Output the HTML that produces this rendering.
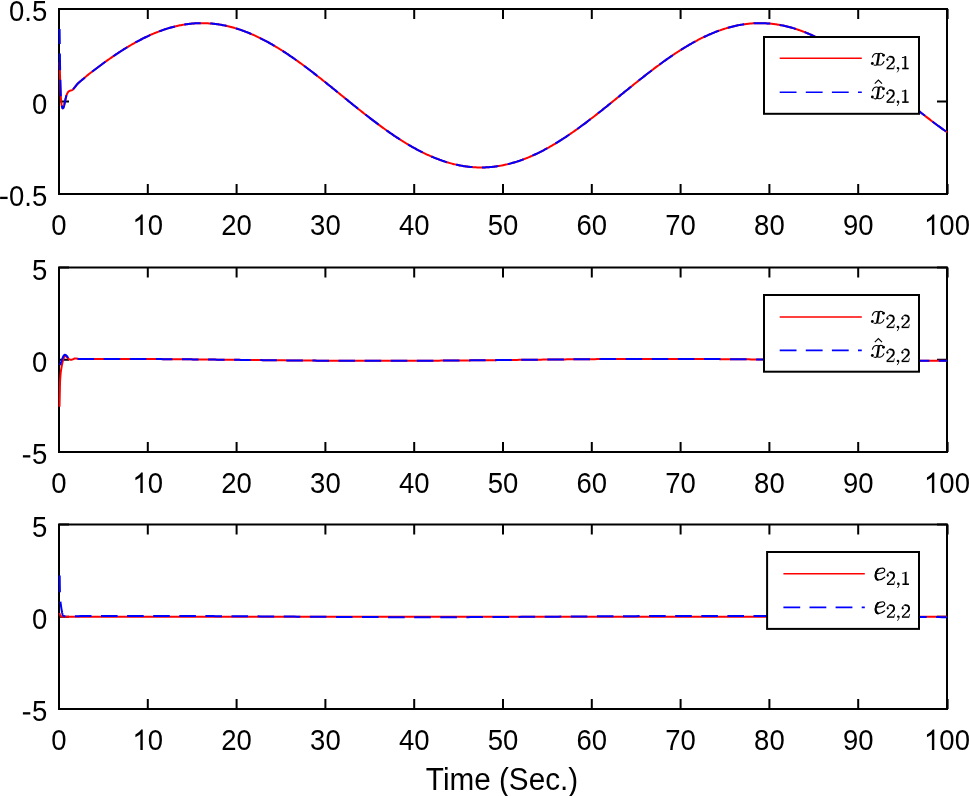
<!DOCTYPE html><html><head><meta charset="utf-8"><style>html,body{margin:0;padding:0;background:#fff;}svg{display:block;will-change:transform;}text{font-family:"Liberation Sans",sans-serif;}.s{font-family:"Liberation Serif",serif;}</style></head><body>
<svg width="969" height="796" viewBox="0 0 969 796">
<rect x="0" y="0" width="969" height="796" fill="#fff"/>
<defs>
<clipPath id="c0"><rect x="57.50" y="8.00" width="891.00" height="187.00"/></clipPath>
<clipPath id="c1"><rect x="57.50" y="266.50" width="891.00" height="186.50"/></clipPath>
<clipPath id="c2"><rect x="57.50" y="523.50" width="891.00" height="186.50"/></clipPath>
</defs>
<rect x="59.00" y="9.00" width="888.00" height="185.00" fill="none" stroke="#000" stroke-width="2"/>
<path d="M59.00 194.00V184.00M59.00 9.00V19.00M147.80 194.00V184.00M147.80 9.00V19.00M236.60 194.00V184.00M236.60 9.00V19.00M325.40 194.00V184.00M325.40 9.00V19.00M414.20 194.00V184.00M414.20 9.00V19.00M503.00 194.00V184.00M503.00 9.00V19.00M591.80 194.00V184.00M591.80 9.00V19.00M680.60 194.00V184.00M680.60 9.00V19.00M769.40 194.00V184.00M769.40 9.00V19.00M858.20 194.00V184.00M858.20 9.00V19.00M947.60 194.00V184.00M947.60 9.00V19.00M59.00 9.00H69.00M947.00 9.00H937.00M59.00 101.50H69.00M947.00 101.50H937.00M59.00 194.00H69.00M947.00 194.00H937.00" stroke="#000" stroke-width="2" fill="none"/>
<text transform="translate(59.00 235.10) scale(1 1.085)" font-size="27.5" text-anchor="middle">0</text>
<path transform="translate(132.51 235.10) scale(0.01343 -0.01457)" d="M763,0 L583,0 L583,1100 C539,1060 481,1020 409,980 C337,940 272,910 215,885 L215,1075 C317,1121 406,1172 482,1234 C558,1296 612,1352 643,1409 L763,1409 Z"/>
<text transform="translate(147.80 235.10) scale(1 1.085)" font-size="27.5">0</text>
<text transform="translate(236.60 235.10) scale(1 1.085)" font-size="27.5" text-anchor="middle">20</text>
<text transform="translate(325.40 235.10) scale(1 1.085)" font-size="27.5" text-anchor="middle">30</text>
<text transform="translate(414.20 235.10) scale(1 1.085)" font-size="27.5" text-anchor="middle">40</text>
<text transform="translate(503.00 235.10) scale(1 1.085)" font-size="27.5" text-anchor="middle">50</text>
<text transform="translate(591.80 235.10) scale(1 1.085)" font-size="27.5" text-anchor="middle">60</text>
<text transform="translate(680.60 235.10) scale(1 1.085)" font-size="27.5" text-anchor="middle">70</text>
<text transform="translate(769.40 235.10) scale(1 1.085)" font-size="27.5" text-anchor="middle">80</text>
<text transform="translate(858.20 235.10) scale(1 1.085)" font-size="27.5" text-anchor="middle">90</text>
<path transform="translate(924.06 235.10) scale(0.01343 -0.01457)" d="M763,0 L583,0 L583,1100 C539,1060 481,1020 409,980 C337,940 272,910 215,885 L215,1075 C317,1121 406,1172 482,1234 C558,1296 612,1352 643,1409 L763,1409 Z"/>
<text transform="translate(939.35 235.10) scale(1 1.085)" font-size="27.5">00</text>
<text transform="translate(47.20 21.00) scale(1 1.085)" font-size="27.5" text-anchor="end">0.5</text>
<text transform="translate(47.20 113.50) scale(1 1.085)" font-size="27.5" text-anchor="end">0</text>
<rect x="0.1" y="196.75" width="7.5" height="2.3"/>
<text transform="translate(47.20 206.00) scale(1 1.085)" font-size="27.5" text-anchor="end">0.5</text>
<g clip-path="url(#c0)" fill="none" stroke-width="2" stroke-linejoin="round">
<path d="M59.60,62.00 59.63,63.06 59.67,64.52 59.73,66.25 59.78,68.15 59.84,70.10 59.90,72.00 59.96,73.88 60.02,75.85 60.09,77.88 60.16,79.93 60.23,81.98 60.30,84.00 60.38,86.04 60.45,88.14 60.53,90.24 60.61,92.28 60.70,94.22 60.80,96.00 60.90,97.63 61.00,99.17 61.11,100.59 61.22,101.91 61.35,103.11 61.50,104.20 61.67,105.19 61.86,106.11 62.06,106.91 62.27,107.56 62.49,108.03 62.70,108.30 62.91,108.32 63.13,108.13 63.35,107.75 63.57,107.24 63.79,106.64 64.00,106.00 64.20,105.27 64.40,104.40 64.59,103.45 64.79,102.45 64.99,101.45 65.20,100.50 65.42,99.56 65.64,98.58 65.87,97.61 66.10,96.66 66.35,95.78 66.60,95.00 66.86,94.31 67.13,93.69 67.41,93.13 67.70,92.63 68.00,92.19 68.30,91.80 68.62,91.48 68.94,91.23 69.28,91.04 69.62,90.88 69.96,90.74 70.30,90.60 70.63,90.49 70.95,90.43 71.28,90.39 71.60,90.33 71.94,90.21 72.30,90.00 72.68,89.69 73.07,89.30 73.47,88.86 73.89,88.38 74.30,87.89 74.70,87.40 75.09,86.91 75.47,86.40 75.84,85.88 76.23,85.35 76.65,84.82 77.10,84.30 77.60,83.78 78.13,83.25 78.69,82.72 79.26,82.20 79.83,81.69 80.40,81.20 81.00,80.70 81.65,80.17 82.31,79.66 82.91,79.19 83.43,78.79 83.80,78.50 87.00,75.63 88.00,74.85 89.00,74.07 90.00,73.30 91.00,72.53 92.00,71.76 93.00,70.99 94.00,70.23 95.00,69.47 96.00,68.71 97.00,67.96 98.00,67.21 99.00,66.46 100.00,65.72 101.00,64.98 102.00,64.24 103.00,63.51 104.00,62.78 105.00,62.06 106.00,61.34 107.00,60.63 108.00,59.92 109.00,59.21 110.00,58.51 111.00,57.81 112.00,57.12 113.00,56.43 114.00,55.75 115.00,55.08 116.00,54.40 117.00,53.74 118.00,53.08 119.00,52.42 120.00,51.77 121.00,51.12 122.00,50.48 123.00,49.85 124.00,49.22 125.00,48.60 126.00,47.98 127.00,47.37 128.00,46.77 129.00,46.17 130.00,45.58 131.00,44.99 132.00,44.41 133.00,43.84 134.00,43.28 135.00,42.72 136.00,42.16 137.00,41.62 138.00,41.08 139.00,40.54 140.00,40.02 141.00,39.50 142.00,38.99 143.00,38.48 144.00,37.99 145.00,37.50 146.00,37.01 147.00,36.54 148.00,36.07 149.00,35.61 150.00,35.16 151.00,34.71 152.00,34.28 153.00,33.85 154.00,33.43 155.00,33.01 156.00,32.61 157.00,32.21 158.00,31.82 159.00,31.44 160.00,31.06 161.00,30.70 162.00,30.34 163.00,29.99 164.00,29.65 165.00,29.31 166.00,28.99 167.00,28.67 168.00,28.37 169.00,28.07 170.00,27.78 171.00,27.50 172.00,27.22 173.00,26.96 174.00,26.70 175.00,26.45 176.00,26.22 177.00,25.99 178.00,25.76 179.00,25.55 180.00,25.35 181.00,25.15 182.00,24.97 183.00,24.79 184.00,24.62 185.00,24.47 186.00,24.32 187.00,24.18 188.00,24.04 189.00,23.92 190.00,23.81 191.00,23.70 192.00,23.61 193.00,23.52 194.00,23.44 195.00,23.37 196.00,23.32 197.00,23.27 198.00,23.22 199.00,23.19 200.00,23.17 201.00,23.16 202.00,23.15 203.00,23.16 204.00,23.17 205.00,23.19 206.00,23.23 207.00,23.27 208.00,23.32 209.00,23.38 210.00,23.45 211.00,23.53 212.00,23.61 213.00,23.71 214.00,23.81 215.00,23.93 216.00,24.05 217.00,24.18 218.00,24.33 219.00,24.48 220.00,24.63 221.00,24.80 222.00,24.98 223.00,25.17 224.00,25.36 225.00,25.57 226.00,25.78 227.00,26.00 228.00,26.23 229.00,26.47 230.00,26.72 231.00,26.97 232.00,27.24 233.00,27.51 234.00,27.80 235.00,28.09 236.00,28.39 237.00,28.69 238.00,29.01 239.00,29.34 240.00,29.67 241.00,30.01 242.00,30.36 243.00,30.72 244.00,31.09 245.00,31.46 246.00,31.84 247.00,32.23 248.00,32.63 249.00,33.04 250.00,33.45 251.00,33.87 252.00,34.30 253.00,34.74 254.00,35.19 255.00,35.64 256.00,36.10 257.00,36.57 258.00,37.05 259.00,37.53 260.00,38.02 261.00,38.52 262.00,39.02 263.00,39.53 264.00,40.05 265.00,40.58 266.00,41.11 267.00,41.65 268.00,42.20 269.00,42.75 270.00,43.31 271.00,43.88 272.00,44.45 273.00,45.03 274.00,45.62 275.00,46.21 276.00,46.81 277.00,47.41 278.00,48.02 279.00,48.64 280.00,49.26 281.00,49.89 282.00,50.52 283.00,51.16 284.00,51.81 285.00,52.46 286.00,53.12 287.00,53.78 288.00,54.45 289.00,55.12 290.00,55.80 291.00,56.48 292.00,57.17 293.00,57.86 294.00,58.55 295.00,59.26 296.00,59.96 297.00,60.67 298.00,61.39 299.00,62.11 300.00,62.83 301.00,63.56 302.00,64.29 303.00,65.03 304.00,65.76 305.00,66.51 306.00,67.25 307.00,68.01 308.00,68.76 309.00,69.52 310.00,70.28 311.00,71.04 312.00,71.81 313.00,72.58 314.00,73.35 315.00,74.12 316.00,74.90 317.00,75.68 318.00,76.47 319.00,77.25 320.00,78.04 321.00,78.83 322.00,79.62 323.00,80.42 324.00,81.21 325.00,82.01 326.00,82.81 327.00,83.61 328.00,84.41 329.00,85.22 330.00,86.02 331.00,86.83 332.00,87.64 333.00,88.44 334.00,89.25 335.00,90.06 336.00,90.87 337.00,91.68 338.00,92.50 339.00,93.31 340.00,94.12 341.00,94.93 342.00,95.75 343.00,96.56 344.00,97.37 345.00,98.18 346.00,98.99 347.00,99.81 348.00,100.62 349.00,101.43 350.00,102.23 351.00,103.04 352.00,103.85 353.00,104.66 354.00,105.46 355.00,106.27 356.00,107.07 357.00,107.87 358.00,108.67 359.00,109.47 360.00,110.26 361.00,111.06 362.00,111.85 363.00,112.64 364.00,113.42 365.00,114.21 366.00,114.99 367.00,115.77 368.00,116.55 369.00,117.33 370.00,118.10 371.00,118.87 372.00,119.63 373.00,120.40 374.00,121.16 375.00,121.91 376.00,122.67 377.00,123.42 378.00,124.16 379.00,124.91 380.00,125.65 381.00,126.38 382.00,127.11 383.00,127.84 384.00,128.56 385.00,129.28 386.00,130.00 387.00,130.71 388.00,131.41 389.00,132.11 390.00,132.81 391.00,133.50 392.00,134.19 393.00,134.87 394.00,135.55 395.00,136.22 396.00,136.89 397.00,137.55 398.00,138.20 399.00,138.85 400.00,139.50 401.00,140.14 402.00,140.77 403.00,141.40 404.00,142.02 405.00,142.64 406.00,143.25 407.00,143.85 408.00,144.45 409.00,145.04 410.00,145.63 411.00,146.21 412.00,146.78 413.00,147.34 414.00,147.90 415.00,148.46 416.00,149.00 417.00,149.54 418.00,150.07 419.00,150.60 420.00,151.12 421.00,151.63 422.00,152.13 423.00,152.63 424.00,153.12 425.00,153.60 426.00,154.08 427.00,154.55 428.00,155.01 429.00,155.46 430.00,155.90 431.00,156.34 432.00,156.77 433.00,157.19 434.00,157.60 435.00,158.01 436.00,158.41 437.00,158.80 438.00,159.18 439.00,159.55 440.00,159.92 441.00,160.28 442.00,160.63 443.00,160.97 444.00,161.30 445.00,161.62 446.00,161.94 447.00,162.25 448.00,162.54 449.00,162.84 450.00,163.12 451.00,163.39 452.00,163.65 453.00,163.91 454.00,164.16 455.00,164.40 456.00,164.63 457.00,164.85 458.00,165.06 459.00,165.26 460.00,165.46 461.00,165.64 462.00,165.82 463.00,165.98 464.00,166.14 465.00,166.29 466.00,166.43 467.00,166.57 468.00,166.69 469.00,166.80 470.00,166.91 471.00,167.00 472.00,167.09 473.00,167.16 474.00,167.23 475.00,167.29 476.00,167.34 477.00,167.38 478.00,167.41 479.00,167.44 480.00,167.45 481.00,167.45 482.00,167.45 483.00,167.43 484.00,167.41 485.00,167.38 486.00,167.34 487.00,167.28 488.00,167.22 489.00,167.16 490.00,167.08 491.00,166.99 492.00,166.89 493.00,166.79 494.00,166.67 495.00,166.55 496.00,166.42 497.00,166.28 498.00,166.13 499.00,165.97 500.00,165.80 501.00,165.62 502.00,165.43 503.00,165.24 504.00,165.03 505.00,164.82 506.00,164.60 507.00,164.37 508.00,164.13 509.00,163.88 510.00,163.62 511.00,163.36 512.00,163.08 513.00,162.80 514.00,162.51 515.00,162.21 516.00,161.90 517.00,161.59 518.00,161.26 519.00,160.93 520.00,160.58 521.00,160.23 522.00,159.88 523.00,159.51 524.00,159.14 525.00,158.75 526.00,158.36 527.00,157.96 528.00,157.56 529.00,157.14 530.00,156.72 531.00,156.29 532.00,155.85 533.00,155.41 534.00,154.95 535.00,154.49 536.00,154.02 537.00,153.55 538.00,153.06 539.00,152.57 540.00,152.08 541.00,151.57 542.00,151.06 543.00,150.54 544.00,150.01 545.00,149.48 546.00,148.94 547.00,148.39 548.00,147.84 549.00,147.28 550.00,146.71 551.00,146.14 552.00,145.56 553.00,144.97 554.00,144.38 555.00,143.78 556.00,143.18 557.00,142.57 558.00,141.95 559.00,141.33 560.00,140.70 561.00,140.06 562.00,139.42 563.00,138.78 564.00,138.13 565.00,137.47 566.00,136.81 567.00,136.14 568.00,135.47 569.00,134.79 570.00,134.11 571.00,133.42 572.00,132.73 573.00,132.03 574.00,131.33 575.00,130.62 576.00,129.91 577.00,129.20 578.00,128.48 579.00,127.76 580.00,127.03 581.00,126.30 582.00,125.56 583.00,124.82 584.00,124.08 585.00,123.33 586.00,122.58 587.00,121.83 588.00,121.07 589.00,120.31 590.00,119.54 591.00,118.78 592.00,118.01 593.00,117.24 594.00,116.46 595.00,115.68 596.00,114.90 597.00,114.12 598.00,113.33 599.00,112.54 600.00,111.75 601.00,110.96 602.00,110.17 603.00,109.37 604.00,108.57 605.00,107.77 606.00,106.97 607.00,106.17 608.00,105.37 609.00,104.56 610.00,103.76 611.00,102.95 612.00,102.14 613.00,101.33 614.00,100.52 615.00,99.71 616.00,98.90 617.00,98.09 618.00,97.28 619.00,96.46 620.00,95.65 621.00,94.84 622.00,94.03 623.00,93.21 624.00,92.40 625.00,91.59 626.00,90.78 627.00,89.97 628.00,89.16 629.00,88.35 630.00,87.54 631.00,86.73 632.00,85.93 633.00,85.12 634.00,84.32 635.00,83.52 636.00,82.72 637.00,81.92 638.00,81.12 639.00,80.32 640.00,79.53 641.00,78.74 642.00,77.95 643.00,77.16 644.00,76.37 645.00,75.59 646.00,74.81 647.00,74.03 648.00,73.26 649.00,72.49 650.00,71.72 651.00,70.95 652.00,70.19 653.00,69.43 654.00,68.67 655.00,67.92 656.00,67.17 657.00,66.42 658.00,65.68 659.00,64.94 660.00,64.20 661.00,63.47 662.00,62.75 663.00,62.02 664.00,61.30 665.00,60.59 666.00,59.88 667.00,59.17 668.00,58.47 669.00,57.78 670.00,57.08 671.00,56.40 672.00,55.72 673.00,55.04 674.00,54.37 675.00,53.70 676.00,53.04 677.00,52.38 678.00,51.73 679.00,51.09 680.00,50.45 681.00,49.82 682.00,49.19 683.00,48.57 684.00,47.95 685.00,47.34 686.00,46.74 687.00,46.14 688.00,45.55 689.00,44.96 690.00,44.38 691.00,43.81 692.00,43.25 693.00,42.69 694.00,42.13 695.00,41.59 696.00,41.05 697.00,40.52 698.00,39.99 699.00,39.47 700.00,38.96 701.00,38.46 702.00,37.96 703.00,37.47 704.00,36.99 705.00,36.51 706.00,36.05 707.00,35.59 708.00,35.14 709.00,34.69 710.00,34.25 711.00,33.82 712.00,33.40 713.00,32.99 714.00,32.58 715.00,32.19 716.00,31.80 717.00,31.42 718.00,31.04 719.00,30.68 720.00,30.32 721.00,29.97 722.00,29.63 723.00,29.30 724.00,28.97 725.00,28.66 726.00,28.35 727.00,28.05 728.00,27.76 729.00,27.48 730.00,27.21 731.00,26.94 732.00,26.69 733.00,26.44 734.00,26.20 735.00,25.97 736.00,25.75 737.00,25.54 738.00,25.34 739.00,25.14 740.00,24.96 741.00,24.78 742.00,24.62 743.00,24.46 744.00,24.31 745.00,24.17 746.00,24.04 747.00,23.91 748.00,23.80 749.00,23.70 750.00,23.60 751.00,23.52 752.00,23.44 753.00,23.37 754.00,23.31 755.00,23.26 756.00,23.22 757.00,23.19 758.00,23.17 759.00,23.16 760.00,23.15 761.00,23.16 762.00,23.17 763.00,23.20 764.00,23.23 765.00,23.27 766.00,23.32 767.00,23.38 768.00,23.45 769.00,23.53 770.00,23.62 771.00,23.71 772.00,23.82 773.00,23.93 774.00,24.06 775.00,24.19 776.00,24.33 777.00,24.48 778.00,24.64 779.00,24.81 780.00,24.99 781.00,25.18 782.00,25.37 783.00,25.58 784.00,25.79 785.00,26.01 786.00,26.24 787.00,26.48 788.00,26.73 789.00,26.99 790.00,27.25 791.00,27.53 792.00,27.81 793.00,28.10 794.00,28.40 795.00,28.71 796.00,29.03 797.00,29.35 798.00,29.69 799.00,30.03 800.00,30.38 801.00,30.74 802.00,31.10 803.00,31.48 804.00,31.86 805.00,32.25 806.00,32.65 807.00,33.06 808.00,33.47 809.00,33.90 810.00,34.33 811.00,34.77 812.00,35.21 813.00,35.67 814.00,36.13 815.00,36.59 816.00,37.07 817.00,37.55 818.00,38.05 819.00,38.54 820.00,39.05 821.00,39.56 822.00,40.08 823.00,40.61 824.00,41.14 825.00,41.68 826.00,42.23 827.00,42.78 828.00,43.34 829.00,43.91 830.00,44.48 831.00,45.06 832.00,45.65 833.00,46.24 834.00,46.84 835.00,47.44 836.00,48.06 837.00,48.67 838.00,49.30 839.00,49.92 840.00,50.56 841.00,51.20 842.00,51.84 843.00,52.50 844.00,53.15 845.00,53.81 846.00,54.48 847.00,55.15 848.00,55.83 849.00,56.51 850.00,57.20 851.00,57.89 852.00,58.59 853.00,59.29 854.00,60.00 855.00,60.71 856.00,61.43 857.00,62.15 858.00,62.87 859.00,63.60 860.00,64.33 861.00,65.06 862.00,65.80 863.00,66.55 864.00,67.29 865.00,68.05 866.00,68.80 867.00,69.56 868.00,70.32 869.00,71.08 870.00,71.85 871.00,72.62 872.00,73.39 873.00,74.17 874.00,74.94 875.00,75.72 876.00,76.51 877.00,77.29 878.00,78.08 879.00,78.87 880.00,79.66 881.00,80.46 882.00,81.25 883.00,82.05 884.00,82.85 885.00,83.65 886.00,84.46 887.00,85.26 888.00,86.06 889.00,86.87 890.00,87.68 891.00,88.49 892.00,89.30 893.00,90.11 894.00,90.92 895.00,91.73 896.00,92.54 897.00,93.35 898.00,94.16 899.00,94.98 900.00,95.79 901.00,96.60 902.00,97.41 903.00,98.23 904.00,99.04 905.00,99.85 906.00,100.66 907.00,101.47 908.00,102.28 909.00,103.09 910.00,103.89 911.00,104.70 912.00,105.50 913.00,106.31 914.00,107.11 915.00,107.91 916.00,108.71 917.00,109.51 918.00,110.30 919.00,111.10 920.00,111.89 921.00,112.68 922.00,113.47 923.00,114.25 924.00,115.03 925.00,115.81 926.00,116.59 927.00,117.37 928.00,118.14 929.00,118.91 930.00,119.67 931.00,120.44 932.00,121.20 933.00,121.95 934.00,122.71 935.00,123.46 936.00,124.20 937.00,124.95 938.00,125.69 939.00,126.42 940.00,127.15 941.00,127.88 942.00,128.60 943.00,129.32 944.00,130.03 945.00,130.74 946.00,131.45 947.00,132.15" stroke="#ff0000"/>
<path d="M59.60,29.00 59.62,30.73 59.65,33.11 59.69,35.94 59.73,39.00 59.76,42.09 59.80,45.00 59.83,47.79 59.86,50.63 59.89,53.50 59.93,56.37 59.96,59.21 60.00,62.00 60.04,64.70 60.09,67.33 60.13,69.94 60.18,72.56 60.24,75.23 60.30,78.00 60.37,81.00 60.44,84.21 60.52,87.49 60.61,90.65 60.70,93.54 60.80,96.00 60.90,97.98 61.00,99.61 61.11,100.97 61.22,102.13 61.35,103.18 61.50,104.20 61.67,105.19 61.86,106.11 62.06,106.91 62.27,107.56 62.49,108.03 62.70,108.30 62.91,108.32 63.13,108.13 63.35,107.75 63.57,107.24 63.79,106.64 64.00,106.00 64.20,105.27 64.40,104.40 64.59,103.45 64.79,102.45 64.99,101.45 65.20,100.50 65.42,99.56 65.64,98.58 65.87,97.61 66.10,96.66 66.35,95.78 66.60,95.00 66.86,94.31 67.13,93.69 67.41,93.13 67.70,92.63 68.00,92.19 68.30,91.80 68.62,91.48 68.94,91.23 69.28,91.04 69.62,90.88 69.96,90.74 70.30,90.60 70.63,90.49 70.95,90.43 71.28,90.39 71.60,90.33 71.94,90.21 72.30,90.00 72.68,89.69 73.07,89.30 73.47,88.86 73.89,88.38 74.30,87.89 74.70,87.40 75.09,86.91 75.47,86.40 75.84,85.88 76.23,85.35 76.65,84.82 77.10,84.30 77.60,83.78 78.13,83.25 78.69,82.72 79.26,82.20 79.83,81.69 80.40,81.20 81.00,80.70 81.65,80.17 82.31,79.66 82.91,79.19 83.43,78.79 83.80,78.50 87.00,75.63 88.00,74.85 89.00,74.07 90.00,73.30 91.00,72.53 92.00,71.76 93.00,70.99 94.00,70.23 95.00,69.47 96.00,68.71 97.00,67.96 98.00,67.21 99.00,66.46 100.00,65.72 101.00,64.98 102.00,64.24 103.00,63.51 104.00,62.78 105.00,62.06 106.00,61.34 107.00,60.63 108.00,59.92 109.00,59.21 110.00,58.51 111.00,57.81 112.00,57.12 113.00,56.43 114.00,55.75 115.00,55.08 116.00,54.40 117.00,53.74 118.00,53.08 119.00,52.42 120.00,51.77 121.00,51.12 122.00,50.48 123.00,49.85 124.00,49.22 125.00,48.60 126.00,47.98 127.00,47.37 128.00,46.77 129.00,46.17 130.00,45.58 131.00,44.99 132.00,44.41 133.00,43.84 134.00,43.28 135.00,42.72 136.00,42.16 137.00,41.62 138.00,41.08 139.00,40.54 140.00,40.02 141.00,39.50 142.00,38.99 143.00,38.48 144.00,37.99 145.00,37.50 146.00,37.01 147.00,36.54 148.00,36.07 149.00,35.61 150.00,35.16 151.00,34.71 152.00,34.28 153.00,33.85 154.00,33.43 155.00,33.01 156.00,32.61 157.00,32.21 158.00,31.82 159.00,31.44 160.00,31.06 161.00,30.70 162.00,30.34 163.00,29.99 164.00,29.65 165.00,29.31 166.00,28.99 167.00,28.67 168.00,28.37 169.00,28.07 170.00,27.78 171.00,27.50 172.00,27.22 173.00,26.96 174.00,26.70 175.00,26.45 176.00,26.22 177.00,25.99 178.00,25.76 179.00,25.55 180.00,25.35 181.00,25.15 182.00,24.97 183.00,24.79 184.00,24.62 185.00,24.47 186.00,24.32 187.00,24.18 188.00,24.04 189.00,23.92 190.00,23.81 191.00,23.70 192.00,23.61 193.00,23.52 194.00,23.44 195.00,23.37 196.00,23.32 197.00,23.27 198.00,23.22 199.00,23.19 200.00,23.17 201.00,23.16 202.00,23.15 203.00,23.16 204.00,23.17 205.00,23.19 206.00,23.23 207.00,23.27 208.00,23.32 209.00,23.38 210.00,23.45 211.00,23.53 212.00,23.61 213.00,23.71 214.00,23.81 215.00,23.93 216.00,24.05 217.00,24.18 218.00,24.33 219.00,24.48 220.00,24.63 221.00,24.80 222.00,24.98 223.00,25.17 224.00,25.36 225.00,25.57 226.00,25.78 227.00,26.00 228.00,26.23 229.00,26.47 230.00,26.72 231.00,26.97 232.00,27.24 233.00,27.51 234.00,27.80 235.00,28.09 236.00,28.39 237.00,28.69 238.00,29.01 239.00,29.34 240.00,29.67 241.00,30.01 242.00,30.36 243.00,30.72 244.00,31.09 245.00,31.46 246.00,31.84 247.00,32.23 248.00,32.63 249.00,33.04 250.00,33.45 251.00,33.87 252.00,34.30 253.00,34.74 254.00,35.19 255.00,35.64 256.00,36.10 257.00,36.57 258.00,37.05 259.00,37.53 260.00,38.02 261.00,38.52 262.00,39.02 263.00,39.53 264.00,40.05 265.00,40.58 266.00,41.11 267.00,41.65 268.00,42.20 269.00,42.75 270.00,43.31 271.00,43.88 272.00,44.45 273.00,45.03 274.00,45.62 275.00,46.21 276.00,46.81 277.00,47.41 278.00,48.02 279.00,48.64 280.00,49.26 281.00,49.89 282.00,50.52 283.00,51.16 284.00,51.81 285.00,52.46 286.00,53.12 287.00,53.78 288.00,54.45 289.00,55.12 290.00,55.80 291.00,56.48 292.00,57.17 293.00,57.86 294.00,58.55 295.00,59.26 296.00,59.96 297.00,60.67 298.00,61.39 299.00,62.11 300.00,62.83 301.00,63.56 302.00,64.29 303.00,65.03 304.00,65.76 305.00,66.51 306.00,67.25 307.00,68.01 308.00,68.76 309.00,69.52 310.00,70.28 311.00,71.04 312.00,71.81 313.00,72.58 314.00,73.35 315.00,74.12 316.00,74.90 317.00,75.68 318.00,76.47 319.00,77.25 320.00,78.04 321.00,78.83 322.00,79.62 323.00,80.42 324.00,81.21 325.00,82.01 326.00,82.81 327.00,83.61 328.00,84.41 329.00,85.22 330.00,86.02 331.00,86.83 332.00,87.64 333.00,88.44 334.00,89.25 335.00,90.06 336.00,90.87 337.00,91.68 338.00,92.50 339.00,93.31 340.00,94.12 341.00,94.93 342.00,95.75 343.00,96.56 344.00,97.37 345.00,98.18 346.00,98.99 347.00,99.81 348.00,100.62 349.00,101.43 350.00,102.23 351.00,103.04 352.00,103.85 353.00,104.66 354.00,105.46 355.00,106.27 356.00,107.07 357.00,107.87 358.00,108.67 359.00,109.47 360.00,110.26 361.00,111.06 362.00,111.85 363.00,112.64 364.00,113.42 365.00,114.21 366.00,114.99 367.00,115.77 368.00,116.55 369.00,117.33 370.00,118.10 371.00,118.87 372.00,119.63 373.00,120.40 374.00,121.16 375.00,121.91 376.00,122.67 377.00,123.42 378.00,124.16 379.00,124.91 380.00,125.65 381.00,126.38 382.00,127.11 383.00,127.84 384.00,128.56 385.00,129.28 386.00,130.00 387.00,130.71 388.00,131.41 389.00,132.11 390.00,132.81 391.00,133.50 392.00,134.19 393.00,134.87 394.00,135.55 395.00,136.22 396.00,136.89 397.00,137.55 398.00,138.20 399.00,138.85 400.00,139.50 401.00,140.14 402.00,140.77 403.00,141.40 404.00,142.02 405.00,142.64 406.00,143.25 407.00,143.85 408.00,144.45 409.00,145.04 410.00,145.63 411.00,146.21 412.00,146.78 413.00,147.34 414.00,147.90 415.00,148.46 416.00,149.00 417.00,149.54 418.00,150.07 419.00,150.60 420.00,151.12 421.00,151.63 422.00,152.13 423.00,152.63 424.00,153.12 425.00,153.60 426.00,154.08 427.00,154.55 428.00,155.01 429.00,155.46 430.00,155.90 431.00,156.34 432.00,156.77 433.00,157.19 434.00,157.60 435.00,158.01 436.00,158.41 437.00,158.80 438.00,159.18 439.00,159.55 440.00,159.92 441.00,160.28 442.00,160.63 443.00,160.97 444.00,161.30 445.00,161.62 446.00,161.94 447.00,162.25 448.00,162.54 449.00,162.84 450.00,163.12 451.00,163.39 452.00,163.65 453.00,163.91 454.00,164.16 455.00,164.40 456.00,164.63 457.00,164.85 458.00,165.06 459.00,165.26 460.00,165.46 461.00,165.64 462.00,165.82 463.00,165.98 464.00,166.14 465.00,166.29 466.00,166.43 467.00,166.57 468.00,166.69 469.00,166.80 470.00,166.91 471.00,167.00 472.00,167.09 473.00,167.16 474.00,167.23 475.00,167.29 476.00,167.34 477.00,167.38 478.00,167.41 479.00,167.44 480.00,167.45 481.00,167.45 482.00,167.45 483.00,167.43 484.00,167.41 485.00,167.38 486.00,167.34 487.00,167.28 488.00,167.22 489.00,167.16 490.00,167.08 491.00,166.99 492.00,166.89 493.00,166.79 494.00,166.67 495.00,166.55 496.00,166.42 497.00,166.28 498.00,166.13 499.00,165.97 500.00,165.80 501.00,165.62 502.00,165.43 503.00,165.24 504.00,165.03 505.00,164.82 506.00,164.60 507.00,164.37 508.00,164.13 509.00,163.88 510.00,163.62 511.00,163.36 512.00,163.08 513.00,162.80 514.00,162.51 515.00,162.21 516.00,161.90 517.00,161.59 518.00,161.26 519.00,160.93 520.00,160.58 521.00,160.23 522.00,159.88 523.00,159.51 524.00,159.14 525.00,158.75 526.00,158.36 527.00,157.96 528.00,157.56 529.00,157.14 530.00,156.72 531.00,156.29 532.00,155.85 533.00,155.41 534.00,154.95 535.00,154.49 536.00,154.02 537.00,153.55 538.00,153.06 539.00,152.57 540.00,152.08 541.00,151.57 542.00,151.06 543.00,150.54 544.00,150.01 545.00,149.48 546.00,148.94 547.00,148.39 548.00,147.84 549.00,147.28 550.00,146.71 551.00,146.14 552.00,145.56 553.00,144.97 554.00,144.38 555.00,143.78 556.00,143.18 557.00,142.57 558.00,141.95 559.00,141.33 560.00,140.70 561.00,140.06 562.00,139.42 563.00,138.78 564.00,138.13 565.00,137.47 566.00,136.81 567.00,136.14 568.00,135.47 569.00,134.79 570.00,134.11 571.00,133.42 572.00,132.73 573.00,132.03 574.00,131.33 575.00,130.62 576.00,129.91 577.00,129.20 578.00,128.48 579.00,127.76 580.00,127.03 581.00,126.30 582.00,125.56 583.00,124.82 584.00,124.08 585.00,123.33 586.00,122.58 587.00,121.83 588.00,121.07 589.00,120.31 590.00,119.54 591.00,118.78 592.00,118.01 593.00,117.24 594.00,116.46 595.00,115.68 596.00,114.90 597.00,114.12 598.00,113.33 599.00,112.54 600.00,111.75 601.00,110.96 602.00,110.17 603.00,109.37 604.00,108.57 605.00,107.77 606.00,106.97 607.00,106.17 608.00,105.37 609.00,104.56 610.00,103.76 611.00,102.95 612.00,102.14 613.00,101.33 614.00,100.52 615.00,99.71 616.00,98.90 617.00,98.09 618.00,97.28 619.00,96.46 620.00,95.65 621.00,94.84 622.00,94.03 623.00,93.21 624.00,92.40 625.00,91.59 626.00,90.78 627.00,89.97 628.00,89.16 629.00,88.35 630.00,87.54 631.00,86.73 632.00,85.93 633.00,85.12 634.00,84.32 635.00,83.52 636.00,82.72 637.00,81.92 638.00,81.12 639.00,80.32 640.00,79.53 641.00,78.74 642.00,77.95 643.00,77.16 644.00,76.37 645.00,75.59 646.00,74.81 647.00,74.03 648.00,73.26 649.00,72.49 650.00,71.72 651.00,70.95 652.00,70.19 653.00,69.43 654.00,68.67 655.00,67.92 656.00,67.17 657.00,66.42 658.00,65.68 659.00,64.94 660.00,64.20 661.00,63.47 662.00,62.75 663.00,62.02 664.00,61.30 665.00,60.59 666.00,59.88 667.00,59.17 668.00,58.47 669.00,57.78 670.00,57.08 671.00,56.40 672.00,55.72 673.00,55.04 674.00,54.37 675.00,53.70 676.00,53.04 677.00,52.38 678.00,51.73 679.00,51.09 680.00,50.45 681.00,49.82 682.00,49.19 683.00,48.57 684.00,47.95 685.00,47.34 686.00,46.74 687.00,46.14 688.00,45.55 689.00,44.96 690.00,44.38 691.00,43.81 692.00,43.25 693.00,42.69 694.00,42.13 695.00,41.59 696.00,41.05 697.00,40.52 698.00,39.99 699.00,39.47 700.00,38.96 701.00,38.46 702.00,37.96 703.00,37.47 704.00,36.99 705.00,36.51 706.00,36.05 707.00,35.59 708.00,35.14 709.00,34.69 710.00,34.25 711.00,33.82 712.00,33.40 713.00,32.99 714.00,32.58 715.00,32.19 716.00,31.80 717.00,31.42 718.00,31.04 719.00,30.68 720.00,30.32 721.00,29.97 722.00,29.63 723.00,29.30 724.00,28.97 725.00,28.66 726.00,28.35 727.00,28.05 728.00,27.76 729.00,27.48 730.00,27.21 731.00,26.94 732.00,26.69 733.00,26.44 734.00,26.20 735.00,25.97 736.00,25.75 737.00,25.54 738.00,25.34 739.00,25.14 740.00,24.96 741.00,24.78 742.00,24.62 743.00,24.46 744.00,24.31 745.00,24.17 746.00,24.04 747.00,23.91 748.00,23.80 749.00,23.70 750.00,23.60 751.00,23.52 752.00,23.44 753.00,23.37 754.00,23.31 755.00,23.26 756.00,23.22 757.00,23.19 758.00,23.17 759.00,23.16 760.00,23.15 761.00,23.16 762.00,23.17 763.00,23.20 764.00,23.23 765.00,23.27 766.00,23.32 767.00,23.38 768.00,23.45 769.00,23.53 770.00,23.62 771.00,23.71 772.00,23.82 773.00,23.93 774.00,24.06 775.00,24.19 776.00,24.33 777.00,24.48 778.00,24.64 779.00,24.81 780.00,24.99 781.00,25.18 782.00,25.37 783.00,25.58 784.00,25.79 785.00,26.01 786.00,26.24 787.00,26.48 788.00,26.73 789.00,26.99 790.00,27.25 791.00,27.53 792.00,27.81 793.00,28.10 794.00,28.40 795.00,28.71 796.00,29.03 797.00,29.35 798.00,29.69 799.00,30.03 800.00,30.38 801.00,30.74 802.00,31.10 803.00,31.48 804.00,31.86 805.00,32.25 806.00,32.65 807.00,33.06 808.00,33.47 809.00,33.90 810.00,34.33 811.00,34.77 812.00,35.21 813.00,35.67 814.00,36.13 815.00,36.59 816.00,37.07 817.00,37.55 818.00,38.05 819.00,38.54 820.00,39.05 821.00,39.56 822.00,40.08 823.00,40.61 824.00,41.14 825.00,41.68 826.00,42.23 827.00,42.78 828.00,43.34 829.00,43.91 830.00,44.48 831.00,45.06 832.00,45.65 833.00,46.24 834.00,46.84 835.00,47.44 836.00,48.06 837.00,48.67 838.00,49.30 839.00,49.92 840.00,50.56 841.00,51.20 842.00,51.84 843.00,52.50 844.00,53.15 845.00,53.81 846.00,54.48 847.00,55.15 848.00,55.83 849.00,56.51 850.00,57.20 851.00,57.89 852.00,58.59 853.00,59.29 854.00,60.00 855.00,60.71 856.00,61.43 857.00,62.15 858.00,62.87 859.00,63.60 860.00,64.33 861.00,65.06 862.00,65.80 863.00,66.55 864.00,67.29 865.00,68.05 866.00,68.80 867.00,69.56 868.00,70.32 869.00,71.08 870.00,71.85 871.00,72.62 872.00,73.39 873.00,74.17 874.00,74.94 875.00,75.72 876.00,76.51 877.00,77.29 878.00,78.08 879.00,78.87 880.00,79.66 881.00,80.46 882.00,81.25 883.00,82.05 884.00,82.85 885.00,83.65 886.00,84.46 887.00,85.26 888.00,86.06 889.00,86.87 890.00,87.68 891.00,88.49 892.00,89.30 893.00,90.11 894.00,90.92 895.00,91.73 896.00,92.54 897.00,93.35 898.00,94.16 899.00,94.98 900.00,95.79 901.00,96.60 902.00,97.41 903.00,98.23 904.00,99.04 905.00,99.85 906.00,100.66 907.00,101.47 908.00,102.28 909.00,103.09 910.00,103.89 911.00,104.70 912.00,105.50 913.00,106.31 914.00,107.11 915.00,107.91 916.00,108.71 917.00,109.51 918.00,110.30 919.00,111.10 920.00,111.89 921.00,112.68 922.00,113.47 923.00,114.25 924.00,115.03 925.00,115.81 926.00,116.59 927.00,117.37 928.00,118.14 929.00,118.91 930.00,119.67 931.00,120.44 932.00,121.20 933.00,121.95 934.00,122.71 935.00,123.46 936.00,124.20 937.00,124.95 938.00,125.69 939.00,126.42 940.00,127.15 941.00,127.88 942.00,128.60 943.00,129.32 944.00,130.03 945.00,130.74 946.00,131.45 947.00,132.15" stroke="#0000ff" stroke-dasharray="16.6 9.5" stroke-dashoffset="1.5"/>
</g>
<rect x="59.00" y="267.50" width="888.00" height="184.50" fill="none" stroke="#000" stroke-width="2"/>
<path d="M59.00 452.00V442.00M59.00 267.50V277.50M147.80 452.00V442.00M147.80 267.50V277.50M236.60 452.00V442.00M236.60 267.50V277.50M325.40 452.00V442.00M325.40 267.50V277.50M414.20 452.00V442.00M414.20 267.50V277.50M503.00 452.00V442.00M503.00 267.50V277.50M591.80 452.00V442.00M591.80 267.50V277.50M680.60 452.00V442.00M680.60 267.50V277.50M769.40 452.00V442.00M769.40 267.50V277.50M858.20 452.00V442.00M858.20 267.50V277.50M947.60 452.00V442.00M947.60 267.50V277.50M59.00 267.50H69.00M947.00 267.50H937.00M59.00 359.75H69.00M947.00 359.75H937.00M59.00 452.00H69.00M947.00 452.00H937.00" stroke="#000" stroke-width="2" fill="none"/>
<text transform="translate(59.00 493.10) scale(1 1.085)" font-size="27.5" text-anchor="middle">0</text>
<path transform="translate(132.51 493.10) scale(0.01343 -0.01457)" d="M763,0 L583,0 L583,1100 C539,1060 481,1020 409,980 C337,940 272,910 215,885 L215,1075 C317,1121 406,1172 482,1234 C558,1296 612,1352 643,1409 L763,1409 Z"/>
<text transform="translate(147.80 493.10) scale(1 1.085)" font-size="27.5">0</text>
<text transform="translate(236.60 493.10) scale(1 1.085)" font-size="27.5" text-anchor="middle">20</text>
<text transform="translate(325.40 493.10) scale(1 1.085)" font-size="27.5" text-anchor="middle">30</text>
<text transform="translate(414.20 493.10) scale(1 1.085)" font-size="27.5" text-anchor="middle">40</text>
<text transform="translate(503.00 493.10) scale(1 1.085)" font-size="27.5" text-anchor="middle">50</text>
<text transform="translate(591.80 493.10) scale(1 1.085)" font-size="27.5" text-anchor="middle">60</text>
<text transform="translate(680.60 493.10) scale(1 1.085)" font-size="27.5" text-anchor="middle">70</text>
<text transform="translate(769.40 493.10) scale(1 1.085)" font-size="27.5" text-anchor="middle">80</text>
<text transform="translate(858.20 493.10) scale(1 1.085)" font-size="27.5" text-anchor="middle">90</text>
<path transform="translate(924.06 493.10) scale(0.01343 -0.01457)" d="M763,0 L583,0 L583,1100 C539,1060 481,1020 409,980 C337,940 272,910 215,885 L215,1075 C317,1121 406,1172 482,1234 C558,1296 612,1352 643,1409 L763,1409 Z"/>
<text transform="translate(939.35 493.10) scale(1 1.085)" font-size="27.5">00</text>
<text transform="translate(47.20 279.50) scale(1 1.085)" font-size="27.5" text-anchor="end">5</text>
<text transform="translate(47.20 371.75) scale(1 1.085)" font-size="27.5" text-anchor="end">0</text>
<rect x="22.9" y="455.20" width="7.4" height="2.3"/>
<text transform="translate(47.20 464.00) scale(1 1.085)" font-size="27.5" text-anchor="end">5</text>
<g clip-path="url(#c1)" fill="none" stroke-width="2" stroke-linejoin="round">
<path d="M59.50,406.80 59.53,405.28 59.58,403.16 59.63,400.65 59.69,397.98 59.75,395.36 59.80,393.00 59.85,390.86 59.89,388.76 59.92,386.70 59.97,384.71 60.03,382.81 60.10,381.00 60.19,379.27 60.31,377.59 60.43,376.00 60.56,374.52 60.68,373.18 60.80,372.00 60.91,371.04 61.01,370.27 61.11,369.65 61.20,369.10 61.30,368.57 61.40,368.00 61.50,367.41 61.59,366.85 61.68,366.31 61.77,365.77 61.88,365.21 62.00,364.60 62.14,363.93 62.30,363.22 62.48,362.49 62.65,361.76 62.83,361.05 63.00,360.40 63.17,359.79 63.34,359.19 63.51,358.62 63.67,358.09 63.84,357.61 64.00,357.20 64.15,356.86 64.30,356.57 64.45,356.34 64.60,356.15 64.75,356.01 64.90,355.90 65.06,355.84 65.22,355.82 65.39,355.85 65.56,355.91 65.73,356.00 65.90,356.10 66.08,356.23 66.26,356.39 66.44,356.58 66.62,356.79 66.81,356.99 67.00,357.20 67.19,357.41 67.39,357.63 67.59,357.86 67.79,358.09 67.99,358.30 68.20,358.50 68.41,358.68 68.61,358.85 68.83,359.01 69.04,359.15 69.26,359.28 69.50,359.40 69.75,359.51 70.00,359.60 70.27,359.69 70.54,359.75 70.82,359.79 71.10,359.80 71.39,359.77 71.69,359.71 71.99,359.63 72.29,359.52 72.60,359.41 72.90,359.30 73.20,359.17 73.50,359.02 73.80,358.86 74.10,358.71 74.40,358.58 74.70,358.50 75.00,358.46 75.31,358.46 75.62,358.48 75.92,358.52 76.22,358.56 76.50,358.60 76.78,358.64 77.08,358.68 77.36,358.73 77.62,358.78 77.84,358.82 78.00,358.85 79.00,358.92 81.00,358.92 83.00,358.91 85.00,358.91 87.00,358.91 89.00,358.90 91.00,358.90 93.00,358.90 95.00,358.90 97.00,358.90 99.00,358.90 101.00,358.90 103.00,358.90 105.00,358.90 107.00,358.90 109.00,358.90 111.00,358.90 113.00,358.91 115.00,358.91 117.00,358.91 119.00,358.92 121.00,358.92 123.00,358.93 125.00,358.93 127.00,358.94 129.00,358.95 131.00,358.96 133.00,358.96 135.00,358.97 137.00,358.98 139.00,358.99 141.00,359.00 143.00,359.01 145.00,359.02 147.00,359.03 149.00,359.04 151.00,359.05 153.00,359.07 155.00,359.08 157.00,359.09 159.00,359.11 161.00,359.12 163.00,359.13 165.00,359.15 167.00,359.16 169.00,359.18 171.00,359.19 173.00,359.21 175.00,359.23 177.00,359.24 179.00,359.26 181.00,359.28 183.00,359.30 185.00,359.31 187.00,359.33 189.00,359.35 191.00,359.37 193.00,359.39 195.00,359.41 197.00,359.43 199.00,359.45 201.00,359.47 203.00,359.49 205.00,359.51 207.00,359.53 209.00,359.55 211.00,359.57 213.00,359.59 215.00,359.61 217.00,359.63 219.00,359.65 221.00,359.68 223.00,359.70 225.00,359.72 227.00,359.74 229.00,359.76 231.00,359.78 233.00,359.81 235.00,359.83 237.00,359.85 239.00,359.87 241.00,359.89 243.00,359.92 245.00,359.94 247.00,359.96 249.00,359.98 251.00,360.00 253.00,360.03 255.00,360.05 257.00,360.07 259.00,360.09 261.00,360.11 263.00,360.13 265.00,360.16 267.00,360.18 269.00,360.20 271.00,360.22 273.00,360.24 275.00,360.26 277.00,360.28 279.00,360.30 281.00,360.32 283.00,360.34 285.00,360.36 287.00,360.38 289.00,360.40 291.00,360.41 293.00,360.43 295.00,360.45 297.00,360.47 299.00,360.49 301.00,360.50 303.00,360.52 305.00,360.54 307.00,360.55 309.00,360.57 311.00,360.58 313.00,360.60 315.00,360.61 317.00,360.63 319.00,360.64 321.00,360.66 323.00,360.67 325.00,360.68 327.00,360.69 329.00,360.71 331.00,360.72 333.00,360.73 335.00,360.74 337.00,360.75 339.00,360.76 341.00,360.77 343.00,360.78 345.00,360.79 347.00,360.79 349.00,360.80 351.00,360.81 353.00,360.81 355.00,360.82 357.00,360.83 359.00,360.83 361.00,360.84 363.00,360.84 365.00,360.84 367.00,360.85 369.00,360.85 371.00,360.85 373.00,360.85 375.00,360.85 377.00,360.85 379.00,360.85 381.00,360.85 383.00,360.85 385.00,360.85 387.00,360.85 389.00,360.85 391.00,360.85 393.00,360.84 395.00,360.84 397.00,360.83 399.00,360.83 401.00,360.82 403.00,360.82 405.00,360.81 407.00,360.81 409.00,360.80 411.00,360.79 413.00,360.78 415.00,360.77 417.00,360.77 419.00,360.76 421.00,360.75 423.00,360.74 425.00,360.72 427.00,360.71 429.00,360.70 431.00,360.69 433.00,360.68 435.00,360.66 437.00,360.65 439.00,360.64 441.00,360.62 443.00,360.61 445.00,360.59 447.00,360.58 449.00,360.56 451.00,360.55 453.00,360.53 455.00,360.51 457.00,360.50 459.00,360.48 461.00,360.46 463.00,360.45 465.00,360.43 467.00,360.41 469.00,360.39 471.00,360.37 473.00,360.35 475.00,360.33 477.00,360.31 479.00,360.29 481.00,360.27 483.00,360.25 485.00,360.23 487.00,360.21 489.00,360.19 491.00,360.17 493.00,360.15 495.00,360.13 497.00,360.11 499.00,360.08 501.00,360.06 503.00,360.04 505.00,360.02 507.00,360.00 509.00,359.98 511.00,359.95 513.00,359.93 515.00,359.91 517.00,359.89 519.00,359.87 521.00,359.84 523.00,359.82 525.00,359.80 527.00,359.78 529.00,359.76 531.00,359.73 533.00,359.71 535.00,359.69 537.00,359.67 539.00,359.65 541.00,359.63 543.00,359.60 545.00,359.58 547.00,359.56 549.00,359.54 551.00,359.52 553.00,359.50 555.00,359.48 557.00,359.46 559.00,359.44 561.00,359.42 563.00,359.40 565.00,359.38 567.00,359.36 569.00,359.34 571.00,359.33 573.00,359.31 575.00,359.29 577.00,359.27 579.00,359.25 581.00,359.24 583.00,359.22 585.00,359.21 587.00,359.19 589.00,359.17 591.00,359.16 593.00,359.14 595.00,359.13 597.00,359.11 599.00,359.10 601.00,359.09 603.00,359.07 605.00,359.06 607.00,359.05 609.00,359.04 611.00,359.03 613.00,359.02 615.00,359.01 617.00,359.00 619.00,358.99 621.00,358.98 623.00,358.97 625.00,358.96 627.00,358.95 629.00,358.95 631.00,358.94 633.00,358.93 635.00,358.93 637.00,358.92 639.00,358.92 641.00,358.91 643.00,358.91 645.00,358.90 647.00,358.90 649.00,358.90 651.00,358.90 653.00,358.90 655.00,358.90 657.00,358.90 659.00,358.90 661.00,358.90 663.00,358.90 665.00,358.90 667.00,358.90 669.00,358.90 671.00,358.91 673.00,358.91 675.00,358.91 677.00,358.92 679.00,358.92 681.00,358.93 683.00,358.93 685.00,358.94 687.00,358.95 689.00,358.96 691.00,358.96 693.00,358.97 695.00,358.98 697.00,358.99 699.00,359.00 701.00,359.01 703.00,359.02 705.00,359.03 707.00,359.04 709.00,359.05 711.00,359.07 713.00,359.08 715.00,359.09 717.00,359.11 719.00,359.12 721.00,359.13 723.00,359.15 725.00,359.16 727.00,359.18 729.00,359.19 731.00,359.21 733.00,359.23 735.00,359.24 737.00,359.26 739.00,359.28 741.00,359.30 743.00,359.31 745.00,359.33 747.00,359.35 749.00,359.37 751.00,359.39 753.00,359.41 755.00,359.43 757.00,359.45 759.00,359.47 761.00,359.49 763.00,359.51 765.00,359.53 767.00,359.55 769.00,359.57 771.00,359.59 773.00,359.61 775.00,359.63 777.00,359.65 779.00,359.68 781.00,359.70 783.00,359.72 785.00,359.74 787.00,359.76 789.00,359.79 791.00,359.81 793.00,359.83 795.00,359.85 797.00,359.87 799.00,359.90 801.00,359.92 803.00,359.94 805.00,359.96 807.00,359.98 809.00,360.01 811.00,360.03 813.00,360.05 815.00,360.07 817.00,360.09 819.00,360.11 821.00,360.14 823.00,360.16 825.00,360.18 827.00,360.20 829.00,360.22 831.00,360.24 833.00,360.26 835.00,360.28 837.00,360.30 839.00,360.32 841.00,360.34 843.00,360.36 845.00,360.38 847.00,360.40 849.00,360.42 851.00,360.43 853.00,360.45 855.00,360.47 857.00,360.49 859.00,360.50 861.00,360.52 863.00,360.54 865.00,360.55 867.00,360.57 869.00,360.58 871.00,360.60 873.00,360.61 875.00,360.63 877.00,360.64 879.00,360.66 881.00,360.67 883.00,360.68 885.00,360.69 887.00,360.71 889.00,360.72 891.00,360.73 893.00,360.74 895.00,360.75 897.00,360.76 899.00,360.77 901.00,360.78 903.00,360.79 905.00,360.79 907.00,360.80 909.00,360.81 911.00,360.81 913.00,360.82 915.00,360.83 917.00,360.83 919.00,360.84 921.00,360.84 923.00,360.84 925.00,360.85 927.00,360.85 929.00,360.85 931.00,360.85 933.00,360.85 935.00,360.85 937.00,360.85 939.00,360.85 941.00,360.85 943.00,360.85 945.00,360.85 947.00,360.85" stroke="#ff0000"/>
<path d="M59.90,365.20 60.02,364.88 60.19,364.44 60.39,363.93 60.60,363.37 60.81,362.81 61.00,362.30 61.17,361.84 61.32,361.39 61.48,360.94 61.63,360.48 61.81,360.01 62.00,359.50 62.22,358.93 62.47,358.30 62.73,357.65 62.99,357.02 63.25,356.46 63.50,356.00 63.74,355.64 63.96,355.35 64.19,355.12 64.41,354.95 64.65,354.85 64.90,354.80 65.17,354.84 65.47,354.96 65.78,355.15 66.07,355.37 66.35,355.60 66.60,355.80 66.80,355.99 66.97,356.18 67.12,356.38 67.26,356.58 67.42,356.79 67.60,357.00 67.81,357.23 68.03,357.49 68.27,357.74 68.51,357.99 68.76,358.22 69.00,358.40 69.23,358.54 69.46,358.64 69.69,358.73 69.93,358.79 70.20,358.84 70.50,358.90 70.85,358.96 71.26,359.01 71.68,359.06 72.11,359.10 72.52,359.11 72.90,359.10 73.23,359.05 73.54,358.97 73.84,358.86 74.12,358.76 74.41,358.66 74.70,358.60 75.00,358.57 75.31,358.55 75.62,358.55 75.92,358.56 76.22,358.58 76.50,358.60 76.78,358.63 77.08,358.67 77.36,358.73 77.62,358.78 77.84,358.82 78.00,358.85 79.00,358.92 81.00,358.92 83.00,358.91 85.00,358.91 87.00,358.91 89.00,358.90 91.00,358.90 93.00,358.90 95.00,358.90 97.00,358.90 99.00,358.90 101.00,358.90 103.00,358.90 105.00,358.90 107.00,358.90 109.00,358.90 111.00,358.90 113.00,358.91 115.00,358.91 117.00,358.91 119.00,358.92 121.00,358.92 123.00,358.93 125.00,358.93 127.00,358.94 129.00,358.95 131.00,358.96 133.00,358.96 135.00,358.97 137.00,358.98 139.00,358.99 141.00,359.00 143.00,359.01 145.00,359.02 147.00,359.03 149.00,359.04 151.00,359.05 153.00,359.07 155.00,359.08 157.00,359.09 159.00,359.11 161.00,359.12 163.00,359.13 165.00,359.15 167.00,359.16 169.00,359.18 171.00,359.19 173.00,359.21 175.00,359.23 177.00,359.24 179.00,359.26 181.00,359.28 183.00,359.30 185.00,359.31 187.00,359.33 189.00,359.35 191.00,359.37 193.00,359.39 195.00,359.41 197.00,359.43 199.00,359.45 201.00,359.47 203.00,359.49 205.00,359.51 207.00,359.53 209.00,359.55 211.00,359.57 213.00,359.59 215.00,359.61 217.00,359.63 219.00,359.65 221.00,359.68 223.00,359.70 225.00,359.72 227.00,359.74 229.00,359.76 231.00,359.78 233.00,359.81 235.00,359.83 237.00,359.85 239.00,359.87 241.00,359.89 243.00,359.92 245.00,359.94 247.00,359.96 249.00,359.98 251.00,360.00 253.00,360.03 255.00,360.05 257.00,360.07 259.00,360.09 261.00,360.11 263.00,360.13 265.00,360.16 267.00,360.18 269.00,360.20 271.00,360.22 273.00,360.24 275.00,360.26 277.00,360.28 279.00,360.30 281.00,360.32 283.00,360.34 285.00,360.36 287.00,360.38 289.00,360.40 291.00,360.41 293.00,360.43 295.00,360.45 297.00,360.47 299.00,360.49 301.00,360.50 303.00,360.52 305.00,360.54 307.00,360.55 309.00,360.57 311.00,360.58 313.00,360.60 315.00,360.61 317.00,360.63 319.00,360.64 321.00,360.66 323.00,360.67 325.00,360.68 327.00,360.69 329.00,360.71 331.00,360.72 333.00,360.73 335.00,360.74 337.00,360.75 339.00,360.76 341.00,360.77 343.00,360.78 345.00,360.79 347.00,360.79 349.00,360.80 351.00,360.81 353.00,360.81 355.00,360.82 357.00,360.83 359.00,360.83 361.00,360.84 363.00,360.84 365.00,360.84 367.00,360.85 369.00,360.85 371.00,360.85 373.00,360.85 375.00,360.85 377.00,360.85 379.00,360.85 381.00,360.85 383.00,360.85 385.00,360.85 387.00,360.85 389.00,360.85 391.00,360.85 393.00,360.84 395.00,360.84 397.00,360.83 399.00,360.83 401.00,360.82 403.00,360.82 405.00,360.81 407.00,360.81 409.00,360.80 411.00,360.79 413.00,360.78 415.00,360.77 417.00,360.77 419.00,360.76 421.00,360.75 423.00,360.74 425.00,360.72 427.00,360.71 429.00,360.70 431.00,360.69 433.00,360.68 435.00,360.66 437.00,360.65 439.00,360.64 441.00,360.62 443.00,360.61 445.00,360.59 447.00,360.58 449.00,360.56 451.00,360.55 453.00,360.53 455.00,360.51 457.00,360.50 459.00,360.48 461.00,360.46 463.00,360.45 465.00,360.43 467.00,360.41 469.00,360.39 471.00,360.37 473.00,360.35 475.00,360.33 477.00,360.31 479.00,360.29 481.00,360.27 483.00,360.25 485.00,360.23 487.00,360.21 489.00,360.19 491.00,360.17 493.00,360.15 495.00,360.13 497.00,360.11 499.00,360.08 501.00,360.06 503.00,360.04 505.00,360.02 507.00,360.00 509.00,359.98 511.00,359.95 513.00,359.93 515.00,359.91 517.00,359.89 519.00,359.87 521.00,359.84 523.00,359.82 525.00,359.80 527.00,359.78 529.00,359.76 531.00,359.73 533.00,359.71 535.00,359.69 537.00,359.67 539.00,359.65 541.00,359.63 543.00,359.60 545.00,359.58 547.00,359.56 549.00,359.54 551.00,359.52 553.00,359.50 555.00,359.48 557.00,359.46 559.00,359.44 561.00,359.42 563.00,359.40 565.00,359.38 567.00,359.36 569.00,359.34 571.00,359.33 573.00,359.31 575.00,359.29 577.00,359.27 579.00,359.25 581.00,359.24 583.00,359.22 585.00,359.21 587.00,359.19 589.00,359.17 591.00,359.16 593.00,359.14 595.00,359.13 597.00,359.11 599.00,359.10 601.00,359.09 603.00,359.07 605.00,359.06 607.00,359.05 609.00,359.04 611.00,359.03 613.00,359.02 615.00,359.01 617.00,359.00 619.00,358.99 621.00,358.98 623.00,358.97 625.00,358.96 627.00,358.95 629.00,358.95 631.00,358.94 633.00,358.93 635.00,358.93 637.00,358.92 639.00,358.92 641.00,358.91 643.00,358.91 645.00,358.90 647.00,358.90 649.00,358.90 651.00,358.90 653.00,358.90 655.00,358.90 657.00,358.90 659.00,358.90 661.00,358.90 663.00,358.90 665.00,358.90 667.00,358.90 669.00,358.90 671.00,358.91 673.00,358.91 675.00,358.91 677.00,358.92 679.00,358.92 681.00,358.93 683.00,358.93 685.00,358.94 687.00,358.95 689.00,358.96 691.00,358.96 693.00,358.97 695.00,358.98 697.00,358.99 699.00,359.00 701.00,359.01 703.00,359.02 705.00,359.03 707.00,359.04 709.00,359.05 711.00,359.07 713.00,359.08 715.00,359.09 717.00,359.11 719.00,359.12 721.00,359.13 723.00,359.15 725.00,359.16 727.00,359.18 729.00,359.19 731.00,359.21 733.00,359.23 735.00,359.24 737.00,359.26 739.00,359.28 741.00,359.30 743.00,359.31 745.00,359.33 747.00,359.35 749.00,359.37 751.00,359.39 753.00,359.41 755.00,359.43 757.00,359.45 759.00,359.47 761.00,359.49 763.00,359.51 765.00,359.53 767.00,359.55 769.00,359.57 771.00,359.59 773.00,359.61 775.00,359.63 777.00,359.65 779.00,359.68 781.00,359.70 783.00,359.72 785.00,359.74 787.00,359.76 789.00,359.79 791.00,359.81 793.00,359.83 795.00,359.85 797.00,359.87 799.00,359.90 801.00,359.92 803.00,359.94 805.00,359.96 807.00,359.98 809.00,360.01 811.00,360.03 813.00,360.05 815.00,360.07 817.00,360.09 819.00,360.11 821.00,360.14 823.00,360.16 825.00,360.18 827.00,360.20 829.00,360.22 831.00,360.24 833.00,360.26 835.00,360.28 837.00,360.30 839.00,360.32 841.00,360.34 843.00,360.36 845.00,360.38 847.00,360.40 849.00,360.42 851.00,360.43 853.00,360.45 855.00,360.47 857.00,360.49 859.00,360.50 861.00,360.52 863.00,360.54 865.00,360.55 867.00,360.57 869.00,360.58 871.00,360.60 873.00,360.61 875.00,360.63 877.00,360.64 879.00,360.66 881.00,360.67 883.00,360.68 885.00,360.69 887.00,360.71 889.00,360.72 891.00,360.73 893.00,360.74 895.00,360.75 897.00,360.76 899.00,360.77 901.00,360.78 903.00,360.79 905.00,360.79 907.00,360.80 909.00,360.81 911.00,360.81 913.00,360.82 915.00,360.83 917.00,360.83 919.00,360.84 921.00,360.84 923.00,360.84 925.00,360.85 927.00,360.85 929.00,360.85 931.00,360.85 933.00,360.85 935.00,360.85 937.00,360.85 939.00,360.85 941.00,360.85 943.00,360.85 945.00,360.85 947.00,360.85" stroke="#0000ff" stroke-dasharray="16.6 9.5" stroke-dashoffset="0"/>
</g>
<rect x="59.00" y="524.50" width="888.00" height="184.50" fill="none" stroke="#000" stroke-width="2"/>
<path d="M59.00 709.00V699.00M59.00 524.50V534.50M147.80 709.00V699.00M147.80 524.50V534.50M236.60 709.00V699.00M236.60 524.50V534.50M325.40 709.00V699.00M325.40 524.50V534.50M414.20 709.00V699.00M414.20 524.50V534.50M503.00 709.00V699.00M503.00 524.50V534.50M591.80 709.00V699.00M591.80 524.50V534.50M680.60 709.00V699.00M680.60 524.50V534.50M769.40 709.00V699.00M769.40 524.50V534.50M858.20 709.00V699.00M858.20 524.50V534.50M947.60 709.00V699.00M947.60 524.50V534.50M59.00 524.50H69.00M947.00 524.50H937.00M59.00 616.75H69.00M947.00 616.75H937.00M59.00 709.00H69.00M947.00 709.00H937.00" stroke="#000" stroke-width="2" fill="none"/>
<text transform="translate(59.00 750.10) scale(1 1.085)" font-size="27.5" text-anchor="middle">0</text>
<path transform="translate(132.51 750.10) scale(0.01343 -0.01457)" d="M763,0 L583,0 L583,1100 C539,1060 481,1020 409,980 C337,940 272,910 215,885 L215,1075 C317,1121 406,1172 482,1234 C558,1296 612,1352 643,1409 L763,1409 Z"/>
<text transform="translate(147.80 750.10) scale(1 1.085)" font-size="27.5">0</text>
<text transform="translate(236.60 750.10) scale(1 1.085)" font-size="27.5" text-anchor="middle">20</text>
<text transform="translate(325.40 750.10) scale(1 1.085)" font-size="27.5" text-anchor="middle">30</text>
<text transform="translate(414.20 750.10) scale(1 1.085)" font-size="27.5" text-anchor="middle">40</text>
<text transform="translate(503.00 750.10) scale(1 1.085)" font-size="27.5" text-anchor="middle">50</text>
<text transform="translate(591.80 750.10) scale(1 1.085)" font-size="27.5" text-anchor="middle">60</text>
<text transform="translate(680.60 750.10) scale(1 1.085)" font-size="27.5" text-anchor="middle">70</text>
<text transform="translate(769.40 750.10) scale(1 1.085)" font-size="27.5" text-anchor="middle">80</text>
<text transform="translate(858.20 750.10) scale(1 1.085)" font-size="27.5" text-anchor="middle">90</text>
<path transform="translate(924.06 750.10) scale(0.01343 -0.01457)" d="M763,0 L583,0 L583,1100 C539,1060 481,1020 409,980 C337,940 272,910 215,885 L215,1075 C317,1121 406,1172 482,1234 C558,1296 612,1352 643,1409 L763,1409 Z"/>
<text transform="translate(939.35 750.10) scale(1 1.085)" font-size="27.5">00</text>
<text transform="translate(47.20 536.50) scale(1 1.085)" font-size="27.5" text-anchor="end">5</text>
<text transform="translate(47.20 628.75) scale(1 1.085)" font-size="27.5" text-anchor="end">0</text>
<rect x="22.9" y="712.20" width="7.4" height="2.3"/>
<text transform="translate(47.20 721.00) scale(1 1.085)" font-size="27.5" text-anchor="end">5</text>
<g clip-path="url(#c2)" fill="none" stroke-width="2" stroke-linejoin="round">
<path d="M59.60,613.00 59.66,613.23 59.75,613.54 59.85,613.92 59.96,614.31 60.08,614.68 60.20,615.00 60.31,615.27 60.43,615.51 60.54,615.74 60.67,615.95 60.82,616.14 61.00,616.30 61.20,616.44 61.41,616.54 61.64,616.63 61.90,616.70 62.18,616.75 62.50,616.80 62.89,616.83 63.35,616.84 63.84,616.83 64.31,616.82 64.72,616.81 65.00,616.80 947.00,616.75" stroke="#ff0000"/>
<path d="M59.70,575.00 59.71,576.09 59.72,577.59 59.74,579.38 59.76,581.30 59.78,583.22 59.80,585.00 59.83,586.72 59.86,588.50 59.89,590.28 59.92,592.00 59.96,593.59 60.00,595.00 60.04,596.18 60.08,597.19 60.12,598.06 60.17,598.87 60.23,599.66 60.30,600.50 60.39,601.37 60.49,602.22 60.60,603.06 60.72,603.89 60.83,604.70 60.95,605.50 61.06,606.29 61.18,607.07 61.30,607.84 61.41,608.59 61.53,609.31 61.65,610.00 61.77,610.66 61.88,611.30 62.00,611.91 62.11,612.49 62.23,613.02 62.35,613.50 62.47,613.92 62.59,614.30 62.71,614.62 62.84,614.91 62.97,615.17 63.10,615.40 63.24,615.59 63.39,615.74 63.53,615.86 63.69,615.96 63.84,616.03 64.00,616.10 64.17,616.15 64.36,616.18 64.56,616.19 64.74,616.20 64.89,616.20 65.00,616.20 66.00,616.20 69.00,616.18 72.00,616.16 75.00,616.15 78.00,616.13 81.00,616.12 84.00,616.10 87.00,616.09 90.00,616.08 93.00,616.07 96.00,616.05 99.00,616.04 102.00,616.03 105.00,616.02 108.00,616.01 111.00,616.00 114.00,615.99 117.00,615.99 120.00,615.98 123.00,615.97 126.00,615.97 129.00,615.96 132.00,615.96 135.00,615.96 138.00,615.95 141.00,615.95 144.00,615.95 147.00,615.95 150.00,615.95 153.00,615.95 156.00,615.95 159.00,615.95 162.00,615.96 165.00,615.96 168.00,615.97 171.00,615.97 174.00,615.98 177.00,615.98 180.00,615.99 183.00,616.00 186.00,616.01 189.00,616.02 192.00,616.03 195.00,616.04 198.00,616.05 201.00,616.06 204.00,616.07 207.00,616.08 210.00,616.10 213.00,616.11 216.00,616.13 219.00,616.14 222.00,616.16 225.00,616.17 228.00,616.19 231.00,616.20 234.00,616.22 237.00,616.24 240.00,616.26 243.00,616.28 246.00,616.29 249.00,616.31 252.00,616.33 255.00,616.35 258.00,616.37 261.00,616.39 264.00,616.41 267.00,616.43 270.00,616.45 273.00,616.47 276.00,616.50 279.00,616.52 282.00,616.54 285.00,616.56 288.00,616.58 291.00,616.60 294.00,616.62 297.00,616.64 300.00,616.66 303.00,616.69 306.00,616.71 309.00,616.73 312.00,616.75 315.00,616.77 318.00,616.79 321.00,616.81 324.00,616.83 327.00,616.85 330.00,616.86 333.00,616.88 336.00,616.90 339.00,616.92 342.00,616.94 345.00,616.95 348.00,616.97 351.00,616.99 354.00,617.00 357.00,617.02 360.00,617.03 363.00,617.05 366.00,617.06 369.00,617.07 372.00,617.08 375.00,617.10 378.00,617.11 381.00,617.12 384.00,617.13 387.00,617.14 390.00,617.15 393.00,617.16 396.00,617.16 399.00,617.17 402.00,617.18 405.00,617.18 408.00,617.19 411.00,617.19 414.00,617.19 417.00,617.20 420.00,617.20 423.00,617.20 426.00,617.20 429.00,617.20 432.00,617.20 435.00,617.20 438.00,617.20 441.00,617.19 444.00,617.19 447.00,617.18 450.00,617.18 453.00,617.17 456.00,617.17 459.00,617.16 462.00,617.15 465.00,617.14 468.00,617.13 471.00,617.12 474.00,617.11 477.00,617.10 480.00,617.09 483.00,617.08 486.00,617.07 489.00,617.05 492.00,617.04 495.00,617.02 498.00,617.01 501.00,616.99 504.00,616.98 507.00,616.96 510.00,616.95 513.00,616.93 516.00,616.91 519.00,616.89 522.00,616.87 525.00,616.86 528.00,616.84 531.00,616.82 534.00,616.80 537.00,616.78 540.00,616.76 543.00,616.74 546.00,616.72 549.00,616.70 552.00,616.67 555.00,616.65 558.00,616.63 561.00,616.61 564.00,616.59 567.00,616.57 570.00,616.55 573.00,616.53 576.00,616.51 579.00,616.49 582.00,616.46 585.00,616.44 588.00,616.42 591.00,616.40 594.00,616.38 597.00,616.36 600.00,616.34 603.00,616.32 606.00,616.30 609.00,616.29 612.00,616.27 615.00,616.25 618.00,616.23 621.00,616.21 624.00,616.20 627.00,616.18 630.00,616.16 633.00,616.15 636.00,616.13 639.00,616.12 642.00,616.10 645.00,616.09 648.00,616.08 651.00,616.07 654.00,616.05 657.00,616.04 660.00,616.03 663.00,616.02 666.00,616.01 669.00,616.00 672.00,615.99 675.00,615.99 678.00,615.98 681.00,615.97 684.00,615.97 687.00,615.96 690.00,615.96 693.00,615.96 696.00,615.95 699.00,615.95 702.00,615.95 705.00,615.95 708.00,615.95 711.00,615.95 714.00,615.95 717.00,615.96 720.00,615.96 723.00,615.96 726.00,615.97 729.00,615.97 732.00,615.98 735.00,615.98 738.00,615.99 741.00,616.00 744.00,616.01 747.00,616.02 750.00,616.03 753.00,616.04 756.00,616.05 759.00,616.06 762.00,616.07 765.00,616.08 768.00,616.10 771.00,616.11 774.00,616.13 777.00,616.14 780.00,616.16 783.00,616.17 786.00,616.19 789.00,616.21 792.00,616.22 795.00,616.24 798.00,616.26 801.00,616.28 804.00,616.30 807.00,616.31 810.00,616.33 813.00,616.35 816.00,616.37 819.00,616.39 822.00,616.41 825.00,616.43 828.00,616.45 831.00,616.48 834.00,616.50 837.00,616.52 840.00,616.54 843.00,616.56 846.00,616.58 849.00,616.60 852.00,616.62 855.00,616.64 858.00,616.66 861.00,616.69 864.00,616.71 867.00,616.73 870.00,616.75 873.00,616.77 876.00,616.79 879.00,616.81 882.00,616.83 885.00,616.85 888.00,616.86 891.00,616.88 894.00,616.90 897.00,616.92 900.00,616.94 903.00,616.95 906.00,616.97 909.00,616.99 912.00,617.00 915.00,617.02 918.00,617.03 921.00,617.05 924.00,617.06 927.00,617.07 930.00,617.09 933.00,617.10 936.00,617.11 939.00,617.12 942.00,617.13 945.00,617.14 947.00,617.14" stroke="#0000ff" stroke-dasharray="16.6 9.5" stroke-dashoffset="-0.6"/>
</g>
<text transform="translate(502 789.5) scale(1 1.085)" font-size="29.7" text-anchor="middle">Time (Sec.)</text>
<rect x="764.00" y="37.00" width="155.00" height="76.80" fill="#fff" stroke="#000" stroke-width="2"/>
<path d="M779.70 58.20H861.80" stroke="#ff0000" stroke-width="1.6"/>
<path d="M779.70 92.20H861.80" stroke="#0000ff" stroke-width="1.6" stroke-dasharray="16.8 9.3"/>
<g transform="translate(870.90 65.30) scale(1 0.94)" fill="none" stroke="#000" stroke-linecap="round"><path d="M1.5,-8.6 C2.3,-11.4 4.4,-12.8 6.1,-12.6 C6.9,-12.5 7.4,-12.1 7.7,-11.6" stroke-width="1.1"/><path d="M7.9,-11.9 C7.6,-8.0 6.9,-4.0 6.3,-1.2" stroke-width="2.2"/><path d="M6.3,-1.1 C5.9,-0.1 4.6,0.2 3.1,-0.3" stroke-width="1.1"/><path d="M6.4,-1.0 C7.0,0.0 9.6,0.1 11.0,-1.0 C11.9,-1.8 12.6,-2.9 13.0,-4.0" stroke-width="1.1"/><path d="M7.9,-11.8 C8.6,-12.6 10.4,-12.9 11.6,-12.4" stroke-width="1.15"/></g><circle cx="872.35" cy="63.45" r="1.45"/><circle cx="883.45" cy="55.20" r="1.45"/>
<g transform="translate(886.10 69.30) scale(1 0.95)" fill="none" stroke="#000" stroke-linecap="round"><path d="M0.9,-10.7 C1.3,-12.5 2.6,-13.4 3.9,-13.4" stroke-width="1.0"/><path d="M3.9,-13.4 C6.0,-13.4 7.7,-12.0 7.7,-9.9 C7.7,-8.4 7.1,-7.6 6.3,-6.8" stroke-width="1.9"/><path d="M6.5,-7.0 L1.2,-1.5" stroke-width="1.35"/><path d="M0.5,-0.75 H7.6" stroke-width="1.5" stroke-linecap="butt"/><path d="M7.6,-0.7 L8.2,-3.5" stroke-width="0.8"/><circle cx="1.35" cy="-10.0" r="1.2" fill="#000" stroke="none"/></g><g transform="translate(897.90 68.10)" fill="none" stroke="#000" stroke-linecap="round"><circle cx="0" cy="0" r="1.2" fill="#000" stroke="none"/><path d="M0.95,0.2 C0.95,1.6 0.4,2.8 -0.5,3.9" stroke-width="0.9"/></g><g transform="translate(902.05 69.30) scale(1 0.97)" fill="none" stroke="#000" stroke-linecap="round"><path d="M3.3,-13.3 V-0.9" stroke-width="1.9" stroke-linecap="butt"/><path d="M3.6,-13.2 C2.6,-12.4 1.4,-12.1 0.3,-12.1" stroke-width="1.0"/><path d="M0.1,-0.8 H6.6" stroke-width="1.6" stroke-linecap="butt"/></g>
<g transform="translate(870.90 98.90) scale(1 0.94)" fill="none" stroke="#000" stroke-linecap="round"><path d="M1.5,-8.6 C2.3,-11.4 4.4,-12.8 6.1,-12.6 C6.9,-12.5 7.4,-12.1 7.7,-11.6" stroke-width="1.1"/><path d="M7.9,-11.9 C7.6,-8.0 6.9,-4.0 6.3,-1.2" stroke-width="2.2"/><path d="M6.3,-1.1 C5.9,-0.1 4.6,0.2 3.1,-0.3" stroke-width="1.1"/><path d="M6.4,-1.0 C7.0,0.0 9.6,0.1 11.0,-1.0 C11.9,-1.8 12.6,-2.9 13.0,-4.0" stroke-width="1.1"/><path d="M7.9,-11.8 C8.6,-12.6 10.4,-12.9 11.6,-12.4" stroke-width="1.15"/></g><circle cx="872.35" cy="97.05" r="1.45"/><circle cx="883.45" cy="88.80" r="1.45"/>
<path d="M874.80 83.60 L878.40 80.00 L882.00 83.60" fill="none" stroke="#000" stroke-width="1.1" stroke-linejoin="miter"/>
<g transform="translate(886.10 102.90) scale(1 0.95)" fill="none" stroke="#000" stroke-linecap="round"><path d="M0.9,-10.7 C1.3,-12.5 2.6,-13.4 3.9,-13.4" stroke-width="1.0"/><path d="M3.9,-13.4 C6.0,-13.4 7.7,-12.0 7.7,-9.9 C7.7,-8.4 7.1,-7.6 6.3,-6.8" stroke-width="1.9"/><path d="M6.5,-7.0 L1.2,-1.5" stroke-width="1.35"/><path d="M0.5,-0.75 H7.6" stroke-width="1.5" stroke-linecap="butt"/><path d="M7.6,-0.7 L8.2,-3.5" stroke-width="0.8"/><circle cx="1.35" cy="-10.0" r="1.2" fill="#000" stroke="none"/></g><g transform="translate(897.90 101.70)" fill="none" stroke="#000" stroke-linecap="round"><circle cx="0" cy="0" r="1.2" fill="#000" stroke="none"/><path d="M0.95,0.2 C0.95,1.6 0.4,2.8 -0.5,3.9" stroke-width="0.9"/></g><g transform="translate(902.05 102.90) scale(1 0.97)" fill="none" stroke="#000" stroke-linecap="round"><path d="M3.3,-13.3 V-0.9" stroke-width="1.9" stroke-linecap="butt"/><path d="M3.6,-13.2 C2.6,-12.4 1.4,-12.1 0.3,-12.1" stroke-width="1.0"/><path d="M0.1,-0.8 H6.6" stroke-width="1.6" stroke-linecap="butt"/></g>
<rect x="764.00" y="295.00" width="155.00" height="76.70" fill="#fff" stroke="#000" stroke-width="2"/>
<path d="M779.70 317.00H861.80" stroke="#ff0000" stroke-width="1.6"/>
<path d="M779.70 350.40H861.80" stroke="#0000ff" stroke-width="1.6" stroke-dasharray="16.8 9.3"/>
<g transform="translate(870.90 323.40) scale(1 0.94)" fill="none" stroke="#000" stroke-linecap="round"><path d="M1.5,-8.6 C2.3,-11.4 4.4,-12.8 6.1,-12.6 C6.9,-12.5 7.4,-12.1 7.7,-11.6" stroke-width="1.1"/><path d="M7.9,-11.9 C7.6,-8.0 6.9,-4.0 6.3,-1.2" stroke-width="2.2"/><path d="M6.3,-1.1 C5.9,-0.1 4.6,0.2 3.1,-0.3" stroke-width="1.1"/><path d="M6.4,-1.0 C7.0,0.0 9.6,0.1 11.0,-1.0 C11.9,-1.8 12.6,-2.9 13.0,-4.0" stroke-width="1.1"/><path d="M7.9,-11.8 C8.6,-12.6 10.4,-12.9 11.6,-12.4" stroke-width="1.15"/></g><circle cx="872.35" cy="321.55" r="1.45"/><circle cx="883.45" cy="313.30" r="1.45"/>
<g transform="translate(886.10 328.10) scale(1 0.95)" fill="none" stroke="#000" stroke-linecap="round"><path d="M0.9,-10.7 C1.3,-12.5 2.6,-13.4 3.9,-13.4" stroke-width="1.0"/><path d="M3.9,-13.4 C6.0,-13.4 7.7,-12.0 7.7,-9.9 C7.7,-8.4 7.1,-7.6 6.3,-6.8" stroke-width="1.9"/><path d="M6.5,-7.0 L1.2,-1.5" stroke-width="1.35"/><path d="M0.5,-0.75 H7.6" stroke-width="1.5" stroke-linecap="butt"/><path d="M7.6,-0.7 L8.2,-3.5" stroke-width="0.8"/><circle cx="1.35" cy="-10.0" r="1.2" fill="#000" stroke="none"/></g><g transform="translate(897.90 326.90)" fill="none" stroke="#000" stroke-linecap="round"><circle cx="0" cy="0" r="1.2" fill="#000" stroke="none"/><path d="M0.95,0.2 C0.95,1.6 0.4,2.8 -0.5,3.9" stroke-width="0.9"/></g><g transform="translate(901.10 328.10) scale(1 0.95)" fill="none" stroke="#000" stroke-linecap="round"><path d="M0.9,-10.7 C1.3,-12.5 2.6,-13.4 3.9,-13.4" stroke-width="1.0"/><path d="M3.9,-13.4 C6.0,-13.4 7.7,-12.0 7.7,-9.9 C7.7,-8.4 7.1,-7.6 6.3,-6.8" stroke-width="1.9"/><path d="M6.5,-7.0 L1.2,-1.5" stroke-width="1.35"/><path d="M0.5,-0.75 H7.6" stroke-width="1.5" stroke-linecap="butt"/><path d="M7.6,-0.7 L8.2,-3.5" stroke-width="0.8"/><circle cx="1.35" cy="-10.0" r="1.2" fill="#000" stroke="none"/></g>
<g transform="translate(870.90 357.40) scale(1 0.94)" fill="none" stroke="#000" stroke-linecap="round"><path d="M1.5,-8.6 C2.3,-11.4 4.4,-12.8 6.1,-12.6 C6.9,-12.5 7.4,-12.1 7.7,-11.6" stroke-width="1.1"/><path d="M7.9,-11.9 C7.6,-8.0 6.9,-4.0 6.3,-1.2" stroke-width="2.2"/><path d="M6.3,-1.1 C5.9,-0.1 4.6,0.2 3.1,-0.3" stroke-width="1.1"/><path d="M6.4,-1.0 C7.0,0.0 9.6,0.1 11.0,-1.0 C11.9,-1.8 12.6,-2.9 13.0,-4.0" stroke-width="1.1"/><path d="M7.9,-11.8 C8.6,-12.6 10.4,-12.9 11.6,-12.4" stroke-width="1.15"/></g><circle cx="872.35" cy="355.55" r="1.45"/><circle cx="883.45" cy="347.30" r="1.45"/>
<path d="M874.80 342.10 L878.40 338.50 L882.00 342.10" fill="none" stroke="#000" stroke-width="1.1" stroke-linejoin="miter"/>
<g transform="translate(886.10 362.10) scale(1 0.95)" fill="none" stroke="#000" stroke-linecap="round"><path d="M0.9,-10.7 C1.3,-12.5 2.6,-13.4 3.9,-13.4" stroke-width="1.0"/><path d="M3.9,-13.4 C6.0,-13.4 7.7,-12.0 7.7,-9.9 C7.7,-8.4 7.1,-7.6 6.3,-6.8" stroke-width="1.9"/><path d="M6.5,-7.0 L1.2,-1.5" stroke-width="1.35"/><path d="M0.5,-0.75 H7.6" stroke-width="1.5" stroke-linecap="butt"/><path d="M7.6,-0.7 L8.2,-3.5" stroke-width="0.8"/><circle cx="1.35" cy="-10.0" r="1.2" fill="#000" stroke="none"/></g><g transform="translate(897.90 360.90)" fill="none" stroke="#000" stroke-linecap="round"><circle cx="0" cy="0" r="1.2" fill="#000" stroke="none"/><path d="M0.95,0.2 C0.95,1.6 0.4,2.8 -0.5,3.9" stroke-width="0.9"/></g><g transform="translate(901.10 362.10) scale(1 0.95)" fill="none" stroke="#000" stroke-linecap="round"><path d="M0.9,-10.7 C1.3,-12.5 2.6,-13.4 3.9,-13.4" stroke-width="1.0"/><path d="M3.9,-13.4 C6.0,-13.4 7.7,-12.0 7.7,-9.9 C7.7,-8.4 7.1,-7.6 6.3,-6.8" stroke-width="1.9"/><path d="M6.5,-7.0 L1.2,-1.5" stroke-width="1.35"/><path d="M0.5,-0.75 H7.6" stroke-width="1.5" stroke-linecap="butt"/><path d="M7.6,-0.7 L8.2,-3.5" stroke-width="0.8"/><circle cx="1.35" cy="-10.0" r="1.2" fill="#000" stroke="none"/></g>
<rect x="767.10" y="552.00" width="151.90" height="76.90" fill="#fff" stroke="#000" stroke-width="2"/>
<path d="M783.40 573.80H864.80" stroke="#ff0000" stroke-width="1.6"/>
<path d="M783.40 607.40H864.80" stroke="#0000ff" stroke-width="1.6" stroke-dasharray="16.8 9.3"/>
<g transform="translate(873.80 580.40)" fill="none" stroke="#000" stroke-linecap="round"><path d="M2.3,-6.9 C5.0,-6.9 7.6,-7.1 9.3,-7.9 C10.8,-8.6 11.3,-10.2 10.6,-11.3 C10.0,-12.2 8.8,-12.3 7.9,-12.2 C5.2,-12.0 2.7,-9.9 1.8,-6.9 C1.0,-3.9 1.4,-0.6 4.2,-0.4 C6.7,-0.3 9.4,-1.8 10.9,-3.2" stroke-width="1.2"/><path d="M4.2,-11.0 C2.8,-9.6 1.9,-7.3 1.9,-5.0 C1.9,-2.9 2.6,-1.3 4.0,-0.7" stroke-width="2.1"/></g>
<g transform="translate(886.40 585.00) scale(1 0.95)" fill="none" stroke="#000" stroke-linecap="round"><path d="M0.9,-10.7 C1.3,-12.5 2.6,-13.4 3.9,-13.4" stroke-width="1.0"/><path d="M3.9,-13.4 C6.0,-13.4 7.7,-12.0 7.7,-9.9 C7.7,-8.4 7.1,-7.6 6.3,-6.8" stroke-width="1.9"/><path d="M6.5,-7.0 L1.2,-1.5" stroke-width="1.35"/><path d="M0.5,-0.75 H7.6" stroke-width="1.5" stroke-linecap="butt"/><path d="M7.6,-0.7 L8.2,-3.5" stroke-width="0.8"/><circle cx="1.35" cy="-10.0" r="1.2" fill="#000" stroke="none"/></g><g transform="translate(898.20 583.80)" fill="none" stroke="#000" stroke-linecap="round"><circle cx="0" cy="0" r="1.2" fill="#000" stroke="none"/><path d="M0.95,0.2 C0.95,1.6 0.4,2.8 -0.5,3.9" stroke-width="0.9"/></g><g transform="translate(902.35 585.00) scale(1 0.97)" fill="none" stroke="#000" stroke-linecap="round"><path d="M3.3,-13.3 V-0.9" stroke-width="1.9" stroke-linecap="butt"/><path d="M3.6,-13.2 C2.6,-12.4 1.4,-12.1 0.3,-12.1" stroke-width="1.0"/><path d="M0.1,-0.8 H6.6" stroke-width="1.6" stroke-linecap="butt"/></g>
<g transform="translate(873.80 614.00)" fill="none" stroke="#000" stroke-linecap="round"><path d="M2.3,-6.9 C5.0,-6.9 7.6,-7.1 9.3,-7.9 C10.8,-8.6 11.3,-10.2 10.6,-11.3 C10.0,-12.2 8.8,-12.3 7.9,-12.2 C5.2,-12.0 2.7,-9.9 1.8,-6.9 C1.0,-3.9 1.4,-0.6 4.2,-0.4 C6.7,-0.3 9.4,-1.8 10.9,-3.2" stroke-width="1.2"/><path d="M4.2,-11.0 C2.8,-9.6 1.9,-7.3 1.9,-5.0 C1.9,-2.9 2.6,-1.3 4.0,-0.7" stroke-width="2.1"/></g>
<g transform="translate(886.40 617.80) scale(1 0.95)" fill="none" stroke="#000" stroke-linecap="round"><path d="M0.9,-10.7 C1.3,-12.5 2.6,-13.4 3.9,-13.4" stroke-width="1.0"/><path d="M3.9,-13.4 C6.0,-13.4 7.7,-12.0 7.7,-9.9 C7.7,-8.4 7.1,-7.6 6.3,-6.8" stroke-width="1.9"/><path d="M6.5,-7.0 L1.2,-1.5" stroke-width="1.35"/><path d="M0.5,-0.75 H7.6" stroke-width="1.5" stroke-linecap="butt"/><path d="M7.6,-0.7 L8.2,-3.5" stroke-width="0.8"/><circle cx="1.35" cy="-10.0" r="1.2" fill="#000" stroke="none"/></g><g transform="translate(898.20 616.60)" fill="none" stroke="#000" stroke-linecap="round"><circle cx="0" cy="0" r="1.2" fill="#000" stroke="none"/><path d="M0.95,0.2 C0.95,1.6 0.4,2.8 -0.5,3.9" stroke-width="0.9"/></g><g transform="translate(901.40 617.80) scale(1 0.95)" fill="none" stroke="#000" stroke-linecap="round"><path d="M0.9,-10.7 C1.3,-12.5 2.6,-13.4 3.9,-13.4" stroke-width="1.0"/><path d="M3.9,-13.4 C6.0,-13.4 7.7,-12.0 7.7,-9.9 C7.7,-8.4 7.1,-7.6 6.3,-6.8" stroke-width="1.9"/><path d="M6.5,-7.0 L1.2,-1.5" stroke-width="1.35"/><path d="M0.5,-0.75 H7.6" stroke-width="1.5" stroke-linecap="butt"/><path d="M7.6,-0.7 L8.2,-3.5" stroke-width="0.8"/><circle cx="1.35" cy="-10.0" r="1.2" fill="#000" stroke="none"/></g>
</svg></body></html>
